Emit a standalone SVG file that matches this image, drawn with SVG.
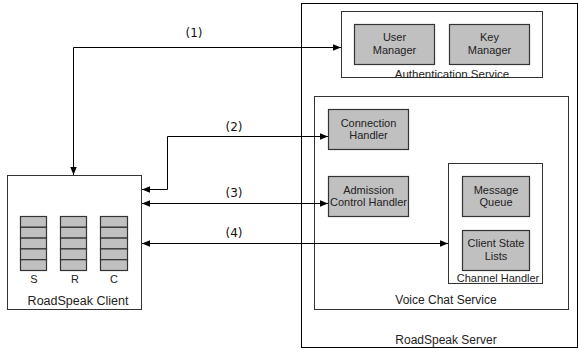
<svg xmlns="http://www.w3.org/2000/svg" width="579" height="354" viewBox="0 0 579 354">
<defs>
<marker id="ah" viewBox="0 0 10 10" refX="10" refY="5" markerWidth="8" markerHeight="8" markerUnits="userSpaceOnUse" orient="auto-start-reverse">
<path d="M0,1 L10,5 L0,9 Z" fill="#000"/>
</marker>
<style>
.box{fill:#fff;stroke:#333;stroke-width:1}
.srv{fill:#fff;stroke:#000;stroke-width:1}
.g{fill:#c0c0c0;stroke:#333;stroke-width:1.2}
.t{font-family:"Liberation Sans",Arial,sans-serif;font-size:11px;fill:#222;text-anchor:middle}
.l{font-family:"DejaVu Sans","Liberation Sans",sans-serif;font-size:12px;fill:#111;text-anchor:middle}
.c{fill:none;stroke:#000;stroke-width:1}
</style>
</defs>
<rect width="579" height="354" fill="#fff"/>
<g id="server">
<rect class="srv" x="301.5" y="3.5" width="276" height="344"/>
<text class="t" x="446" y="344" style="font-size:12px">RoadSpeak Server</text>
</g>
<g id="auth">
<rect class="box" x="341.5" y="11.5" width="201" height="66"/>
<text class="t" x="452" y="78" style="font-size:11.5px">Authentication Service</text>
</g>
<g id="user-manager">
<rect class="g" x="354.5" y="24.5" width="80" height="40"/>
<text class="t" x="394.5" y="41">User</text>
<text class="t" x="394.5" y="54">Manager</text>
</g>
<g id="key-manager">
<rect class="g" x="449.5" y="24.5" width="80" height="40"/>
<text class="t" x="489.5" y="41">Key</text>
<text class="t" x="489.5" y="54">Manager</text>
</g>
<g id="voice-chat">
<rect class="box" x="314.5" y="96.5" width="254" height="213"/>
<text class="t" x="446" y="304" style="font-size:12px">Voice Chat Service</text>
</g>
<g id="connection-handler">
<rect class="g" x="328.5" y="109.5" width="80" height="40"/>
<text class="t" x="368.5" y="127">Connection</text>
<text class="t" x="368.5" y="139">Handler</text>
</g>
<g id="admission-handler">
<rect class="g" x="328.5" y="176.5" width="80" height="40"/>
<text class="t" x="368.5" y="194">Admission</text>
<text class="t" x="368.5" y="206">Control Handler</text>
</g>
<g id="channel-handler">
<rect class="box" x="448.5" y="163.5" width="94" height="120"/>
<text class="t" x="498" y="282">Channel Handler</text>
</g>
<g id="message-queue">
<rect class="g" x="462.5" y="176.5" width="67" height="40"/>
<text class="t" x="496" y="194">Message</text>
<text class="t" x="496" y="206">Queue</text>
</g>
<g id="client-state">
<rect class="g" x="462.5" y="230.5" width="67" height="40"/>
<text class="t" x="496" y="247">Client State</text>
<text class="t" x="496" y="260">Lists</text>
</g>
<g id="client">
<rect class="box" x="7.5" y="175.5" width="134" height="134"/>
<text class="t" x="78" y="305" style="font-size:12.5px">RoadSpeak Client</text>
<g class="g">
<rect x="20.5" y="216.5" width="26" height="10.8"/><rect x="20.5" y="227.3" width="26" height="10.8"/><rect x="20.5" y="238.1" width="26" height="10.8"/><rect x="20.5" y="248.9" width="26" height="10.8"/><rect x="20.5" y="259.7" width="26" height="10.8"/>
<rect x="60.5" y="216.5" width="26" height="10.8"/><rect x="60.5" y="227.3" width="26" height="10.8"/><rect x="60.5" y="238.1" width="26" height="10.8"/><rect x="60.5" y="248.9" width="26" height="10.8"/><rect x="60.5" y="259.7" width="26" height="10.8"/>
<rect x="100.5" y="216.5" width="27" height="10.8"/><rect x="100.5" y="227.3" width="27" height="10.8"/><rect x="100.5" y="238.1" width="27" height="10.8"/><rect x="100.5" y="248.9" width="27" height="10.8"/><rect x="100.5" y="259.7" width="27" height="10.8"/>
</g>
<text class="t" x="34" y="283">S</text>
<text class="t" x="75" y="283">R</text>
<text class="t" x="114" y="283">C</text>
</g>
<g id="connectors">
<path class="c" d="M73.5,175 L73.5,47.5 L341,47.5" marker-start="url(#ah)" marker-end="url(#ah)"/>
<path class="c" d="M328,136.5 L167.5,136.5 L167.5,189.5 L142,189.5" marker-start="url(#ah)" marker-end="url(#ah)"/>
<path class="c" d="M142,203.5 L328,203.5" marker-start="url(#ah)" marker-end="url(#ah)"/>
<path class="c" d="M142,243.5 L448,243.5" marker-start="url(#ah)" marker-end="url(#ah)"/>
<text class="l" x="194" y="37">(1)</text>
<text class="l" x="234" y="131">(2)</text>
<text class="l" x="234" y="197">(3)</text>
<text class="l" x="234" y="237">(4)</text>
</g>
</svg>
